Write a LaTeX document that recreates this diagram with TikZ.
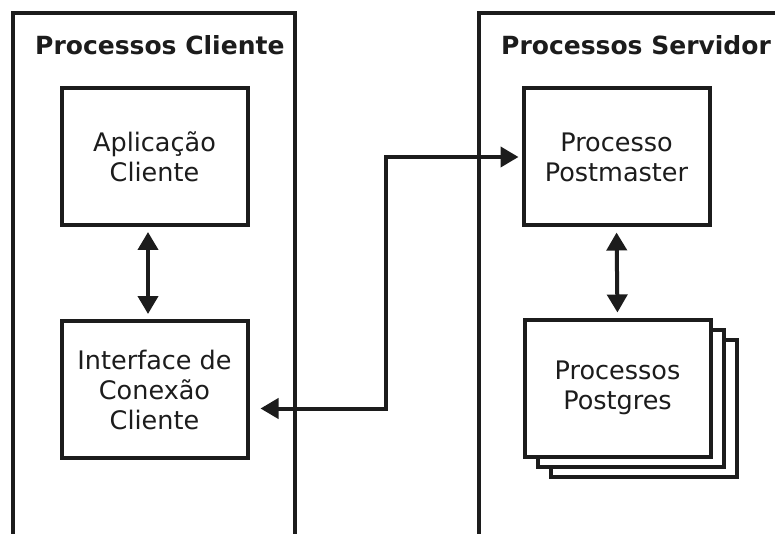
\documentclass[tikz,border=0pt]{standalone}
\usepackage{fontspec}
\setmainfont{DejaVu Sans}
\usetikzlibrary{arrows.meta,shadows}

\definecolor{ink}{HTML}{1C1C1C}
\tikzset{
  proc/.style={draw=ink,line width=4pt,fill=white,align=center,text=ink,
    minimum width=186pt,minimum height=137pt,inner sep=0pt,
    font=\fontsize{25.5}{30}\selectfont},
  stacked/.style={
    general shadow={shadow xshift=26pt,shadow yshift=-20pt,draw=ink,line width=4pt,fill=white},
    general shadow={shadow xshift=13pt,shadow yshift=-10pt,draw=ink,line width=4pt,fill=white}},
  panel/.style={draw=ink,line width=4pt},
  title/.style={anchor=west,text=ink,inner sep=0pt,font=\fontsize{25}{30}\selectfont\bfseries},
  link/.style={draw=ink,line width=4pt,{Triangle[length=18pt,width=20pt]}-{Triangle[length=18pt,width=20pt]}}
}

\begin{document}
\begin{tikzpicture}[x=1pt,y=-1pt]
\clip (0,0) rectangle (775,534);
\fill[white] (0,0) rectangle (775,534);
% panels
\draw[panel] (13,560) -- (13,13) -- (295,13) -- (295,560);
\draw[panel] (479,560) -- (479,13) -- (800,13) -- (800,560);
\node[title] (tcli) at (35,45) {Processos Cliente};
\node[title] (tsrv) at (501,45) {Processos Servidor};
% client side
\node[proc] (app) at (154.5,156.5) {Aplicação\\Cliente};
\node[proc] (iface) at (154.5,389.5) {Interface de\\Conexão\\Cliente};
\draw[link,shorten <=5pt,shorten >=5pt] ([xshift=-6.5pt]app.south) -- ([xshift=-6.5pt]iface.north);
% server side
\node[proc] (pm) at (616.5,157) {Processo\\Postmaster};
\node[proc,stacked] (pg) at (617.5,388) {Processos\\Postgres};
\draw[link,shorten <=5pt,shorten >=5pt] (pm.south) -- (pg.north);
% connection
\draw[link,shorten >=3pt] ([xshift=11pt,yshift=-19pt]iface.east) -| ([xshift=-136pt]pm.west) |- (pm.west);
\end{tikzpicture}
\end{document}
